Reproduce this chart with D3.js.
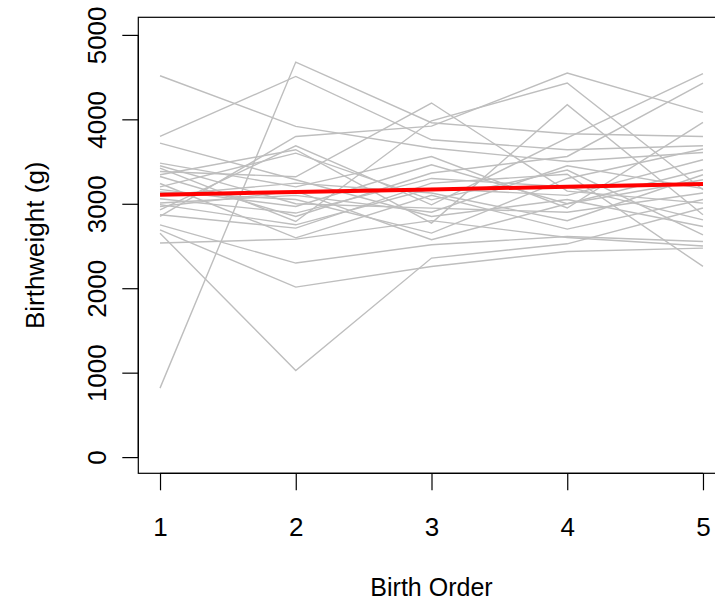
<!DOCTYPE html>
<html>
<head>
<meta charset="utf-8">
<script src="https://cdn.jsdelivr.net/npm/d3@7"></script>
<style>
  html, body { margin: 0; padding: 0; background: #fff; }
  svg { display: block; }
  text { font-family: "Liberation Sans", Arial, Helvetica, sans-serif; }
</style>
</head>
<body>
<svg id="chart" width="715" height="604"></svg>
<script>
// ---- data ----
const birthOrder = [1, 2, 3, 4, 5];
const xTickLabels = ["1", "2", "3", "4", "5"];
const yTickValues = [0, 1000, 2000, 3000, 4000, 5000];

// birthweight (g) of each mother's children, by birth order 1..5
const mother01 = [4516, 3916, 3660, 3500, 3608];
const mother02 = [3797, 4508, 3758, 3640, 3687];
const mother03 = [817, 4678, 3960, 3829, 3797];
const mother04 = [3719, 3284, 2850, 3050, 2731];
const mother05 = [2850, 3797, 3920, 4548, 4082];
const mother06 = [2929, 3687, 2988, 3780, 4540];
const mother07 = [3423, 2790, 3983, 4430, 3166];
const mother08 = [3383, 3320, 4193, 3150, 3008];
const mother09 = [3344, 3640, 2771, 4173, 2870];
const mother10 = [3323, 2850, 3364, 3560, 4430];
const mother11 = [3482, 3200, 3560, 2950, 3963];
const mother12 = [3200, 3600, 3047, 3400, 2633];
const mother13 = [3170, 2968, 3462, 3000, 3403];
const mother14 = [3140, 3050, 2653, 3300, 3648];
const mother15 = [3100, 3245, 3127, 2800, 3344];
const mother16 = [3060, 2890, 3300, 3200, 2810];
const mother17 = [3010, 3100, 2900, 3450, 3180];
const mother18 = [2990, 2751, 3180, 3100, 3521];
const mother19 = [2968, 3150, 2574, 3000, 3284];
const mother20 = [3450, 3000, 2949, 2900, 3127];
const mother21 = [2870, 2712, 3245, 3350, 2258];
const mother22 = [3240, 2597, 3100, 2700, 3050];
const mother23 = [2751, 2298, 2514, 2613, 2554];
const mother24 = [2692, 2013, 2258, 2435, 2475];
const mother25 = [2652, 1026, 2357, 2526, 2950];
const mother26 = [2535, 2582, 2800, 2601, 2500];

// fitted mean trend (red line)
const fitted = [3107, 3139, 3170, 3202, 3233];

const xTitle = "Birth Order";
const yTitle = "Birthweight (g)";

const mothers = [mother01, mother02, mother03, mother04, mother05, mother06, mother07,
  mother08, mother09, mother10, mother11, mother12, mother13, mother14, mother15,
  mother16, mother17, mother18, mother19, mother20, mother21, mother22, mother23,
  mother24, mother25, mother26];

// ---- layout ----
const svg = d3.select("#chart");
const plotLeft = 138.3, plotRight = 724.7, plotTop = 17.3, plotBottom = 473.3;
const fontSize = 26;

const x = d3.scaleLinear().domain([0.84, 5.16]).range([plotLeft, plotRight]);
const y = d3.scaleLinear().domain([-200, 5200]).range([474, 18]);

const line = d3.line()
  .x((d, i) => x(birthOrder[i]))
  .y(d => y(d));

// gray spaghetti lines
svg.append("g")
  .selectAll("path")
  .data(mothers)
  .join("path")
  .attr("d", line)
  .attr("fill", "none")
  .attr("stroke", "#bebebe")
  .attr("stroke-width", 1.4);

// red fitted line
svg.append("path")
  .datum(fitted)
  .attr("d", line)
  .attr("fill", "none")
  .attr("stroke", "#ff0000")
  .attr("stroke-width", 4);

// box
svg.append("rect")
  .attr("x", plotLeft).attr("y", plotTop)
  .attr("width", plotRight - plotLeft).attr("height", plotBottom - plotTop)
  .attr("fill", "none").attr("stroke", "#000").attr("stroke-width", 1.2);

// x axis
const xAxis = d3.axisBottom(x)
  .tickValues(birthOrder)
  .tickFormat((d, i) => xTickLabels[i])
  .tickSize(17)
  .tickPadding(27)
  .tickSizeOuter(0);
const gx = svg.append("g").attr("transform", `translate(0,${plotBottom})`).call(xAxis);
gx.select(".domain").attr("d", `M${x(1)},0H${x(5)}`).attr("stroke", "#000").attr("stroke-width", 1.2);
gx.selectAll(".tick line").attr("stroke", "#000").attr("stroke-width", 1.2);
gx.selectAll(".tick text")
  .attr("fill", "#000")
  .style("font-size", fontSize + "px")
  .style("font-family", '"Liberation Sans", Arial, sans-serif');

// y axis
const yAxis = d3.axisLeft(y)
  .tickValues(yTickValues)
  .tickFormat(d3.format("d"))
  .tickSize(16)
  .tickSizeOuter(0);
const gy = svg.append("g").attr("transform", `translate(${plotLeft},0)`).call(yAxis);
gy.select(".domain").attr("d", `M0,${y(0)}V${y(5000)}`).attr("stroke", "#000").attr("stroke-width", 1.2);
gy.selectAll(".tick line").attr("stroke", "#000").attr("stroke-width", 1.2);
gy.selectAll(".tick text")
  .attr("fill", "#000")
  .attr("x", null).attr("dy", null)
  .attr("text-anchor", "middle")
  .attr("transform", `translate(${106 - plotLeft},0) rotate(-90)`)
  .style("font-size", fontSize + "px")
  .style("font-family", '"Liberation Sans", Arial, sans-serif');

// titles
svg.append("text")
  .attr("x", (plotLeft + plotRight) / 2)
  .attr("y", 596)
  .attr("text-anchor", "middle")
  .style("font-size", "25px")
  .text(xTitle);

svg.append("text")
  .attr("transform", `translate(44,${(plotTop + plotBottom) / 2}) rotate(-90)`)
  .attr("text-anchor", "middle")
  .style("font-size", fontSize + "px")
  .text(yTitle);
</script>
</body>
</html>
